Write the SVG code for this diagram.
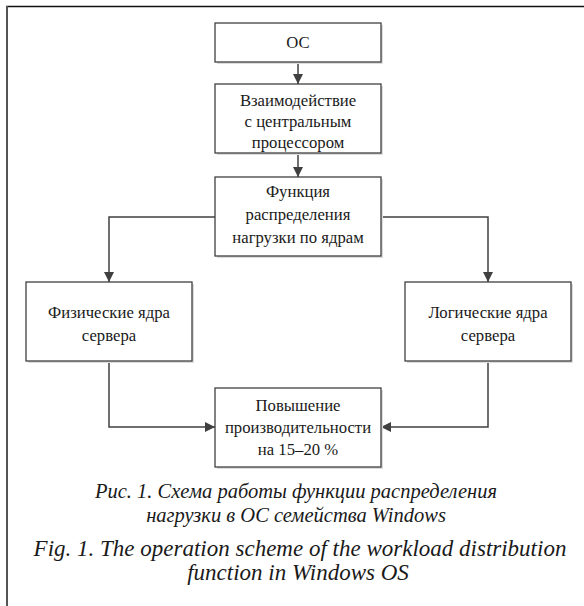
<svg xmlns="http://www.w3.org/2000/svg" width="584" height="606" viewBox="0 0 584 606">
<style>
.box{fill:#fff;stroke:#404040;stroke-width:1.3}
.sh{fill:#dcdcdc}
.t{font-size:16.7px;fill:#1a1a1a;text-anchor:middle}
.c{font-size:20.5px;font-style:italic;fill:#1a1a1a;text-anchor:middle}
.e{font-size:23px}
.ln{fill:none;stroke:#404040;stroke-width:1.5}
</style>
<defs>
<marker id="ah" viewBox="0 0 10 10" refX="10" refY="5" markerWidth="10" markerHeight="10" markerUnits="userSpaceOnUse" orient="auto">
<path d="M0,0 L10,5 L0,10 z" fill="#404040"/>
</marker>
</defs>
<rect width="584" height="606" fill="#fff"/>
<line x1="6" y1="6.5" x2="584" y2="6.5" stroke="#111" stroke-width="1.5"/>
<line x1="7" y1="6" x2="7" y2="606" stroke="#555" stroke-width="2"/>
<g id="connectors">
<line class="ln" x1="298" y1="62" x2="298" y2="84" marker-end="url(#ah)"/>
<line class="ln" x1="298" y1="153" x2="298" y2="177" marker-end="url(#ah)"/>
<polyline class="ln" points="215,217 109,217 109,282" marker-end="url(#ah)"/>
<polyline class="ln" points="381,217 488,217 488,282" marker-end="url(#ah)"/>
<polyline class="ln" points="109,361 109,427 215,427" marker-end="url(#ah)"/>
<polyline class="ln" points="488,361 488,427 381,427" marker-end="url(#ah)"/>
</g>
<g font-family="Liberation Serif, DejaVu Serif, serif">
<g id="n-os">
<rect class="sh" x="217" y="25" width="166" height="39"/>
<rect class="box" x="215" y="23" width="166" height="39"/>
<text class="t" x="298" y="48">ОС</text>
</g>
<g id="n-cpu">
<rect class="sh" x="217" y="86" width="166" height="69"/>
<rect class="box" x="215" y="84" width="166" height="69"/>
<text class="t" x="298" y="106">Взаимодействие</text>
<text class="t" x="298" y="127">с центральным</text>
<text class="t" x="298" y="148">процессором</text>
</g>
<g id="n-func">
<rect class="sh" x="217" y="179" width="166" height="79"/>
<rect class="box" x="215" y="177" width="166" height="79"/>
<text class="t" x="298" y="197">Функция</text>
<text class="t" x="298" y="220">распределения</text>
<text class="t" x="298" y="243">нагрузки по ядрам</text>
</g>
<g id="n-phys">
<rect class="sh" x="28" y="284" width="166" height="79"/>
<rect class="box" x="26" y="282" width="166" height="79"/>
<text class="t" x="109" y="318">Физические ядра</text>
<text class="t" x="109" y="341">сервера</text>
</g>
<g id="n-log">
<rect class="sh" x="407" y="284" width="166" height="79"/>
<rect class="box" x="405" y="282" width="166" height="79"/>
<text class="t" x="488" y="318">Логические ядра</text>
<text class="t" x="488" y="341">сервера</text>
</g>
<g id="n-perf">
<rect class="sh" x="217" y="390" width="166" height="79"/>
<rect class="box" x="215" y="388" width="166" height="79"/>
<text class="t" x="298" y="411">Повышение</text>
<text class="t" x="298" y="433">производительности</text>
<text class="t" x="298" y="455">на 15–20 %</text>
</g>
<g id="caption">
<text class="c" x="296" y="498">Рис. 1. Схема работы функции распределения</text>
<text class="c" x="296" y="522">нагрузки в ОС семейства Windows</text>
<text class="c e" x="300" y="556">Fig. 1. The operation scheme of the workload distribution</text>
<text class="c e" x="298" y="580">function in Windows OS</text>
</g>
</g>
</svg>
